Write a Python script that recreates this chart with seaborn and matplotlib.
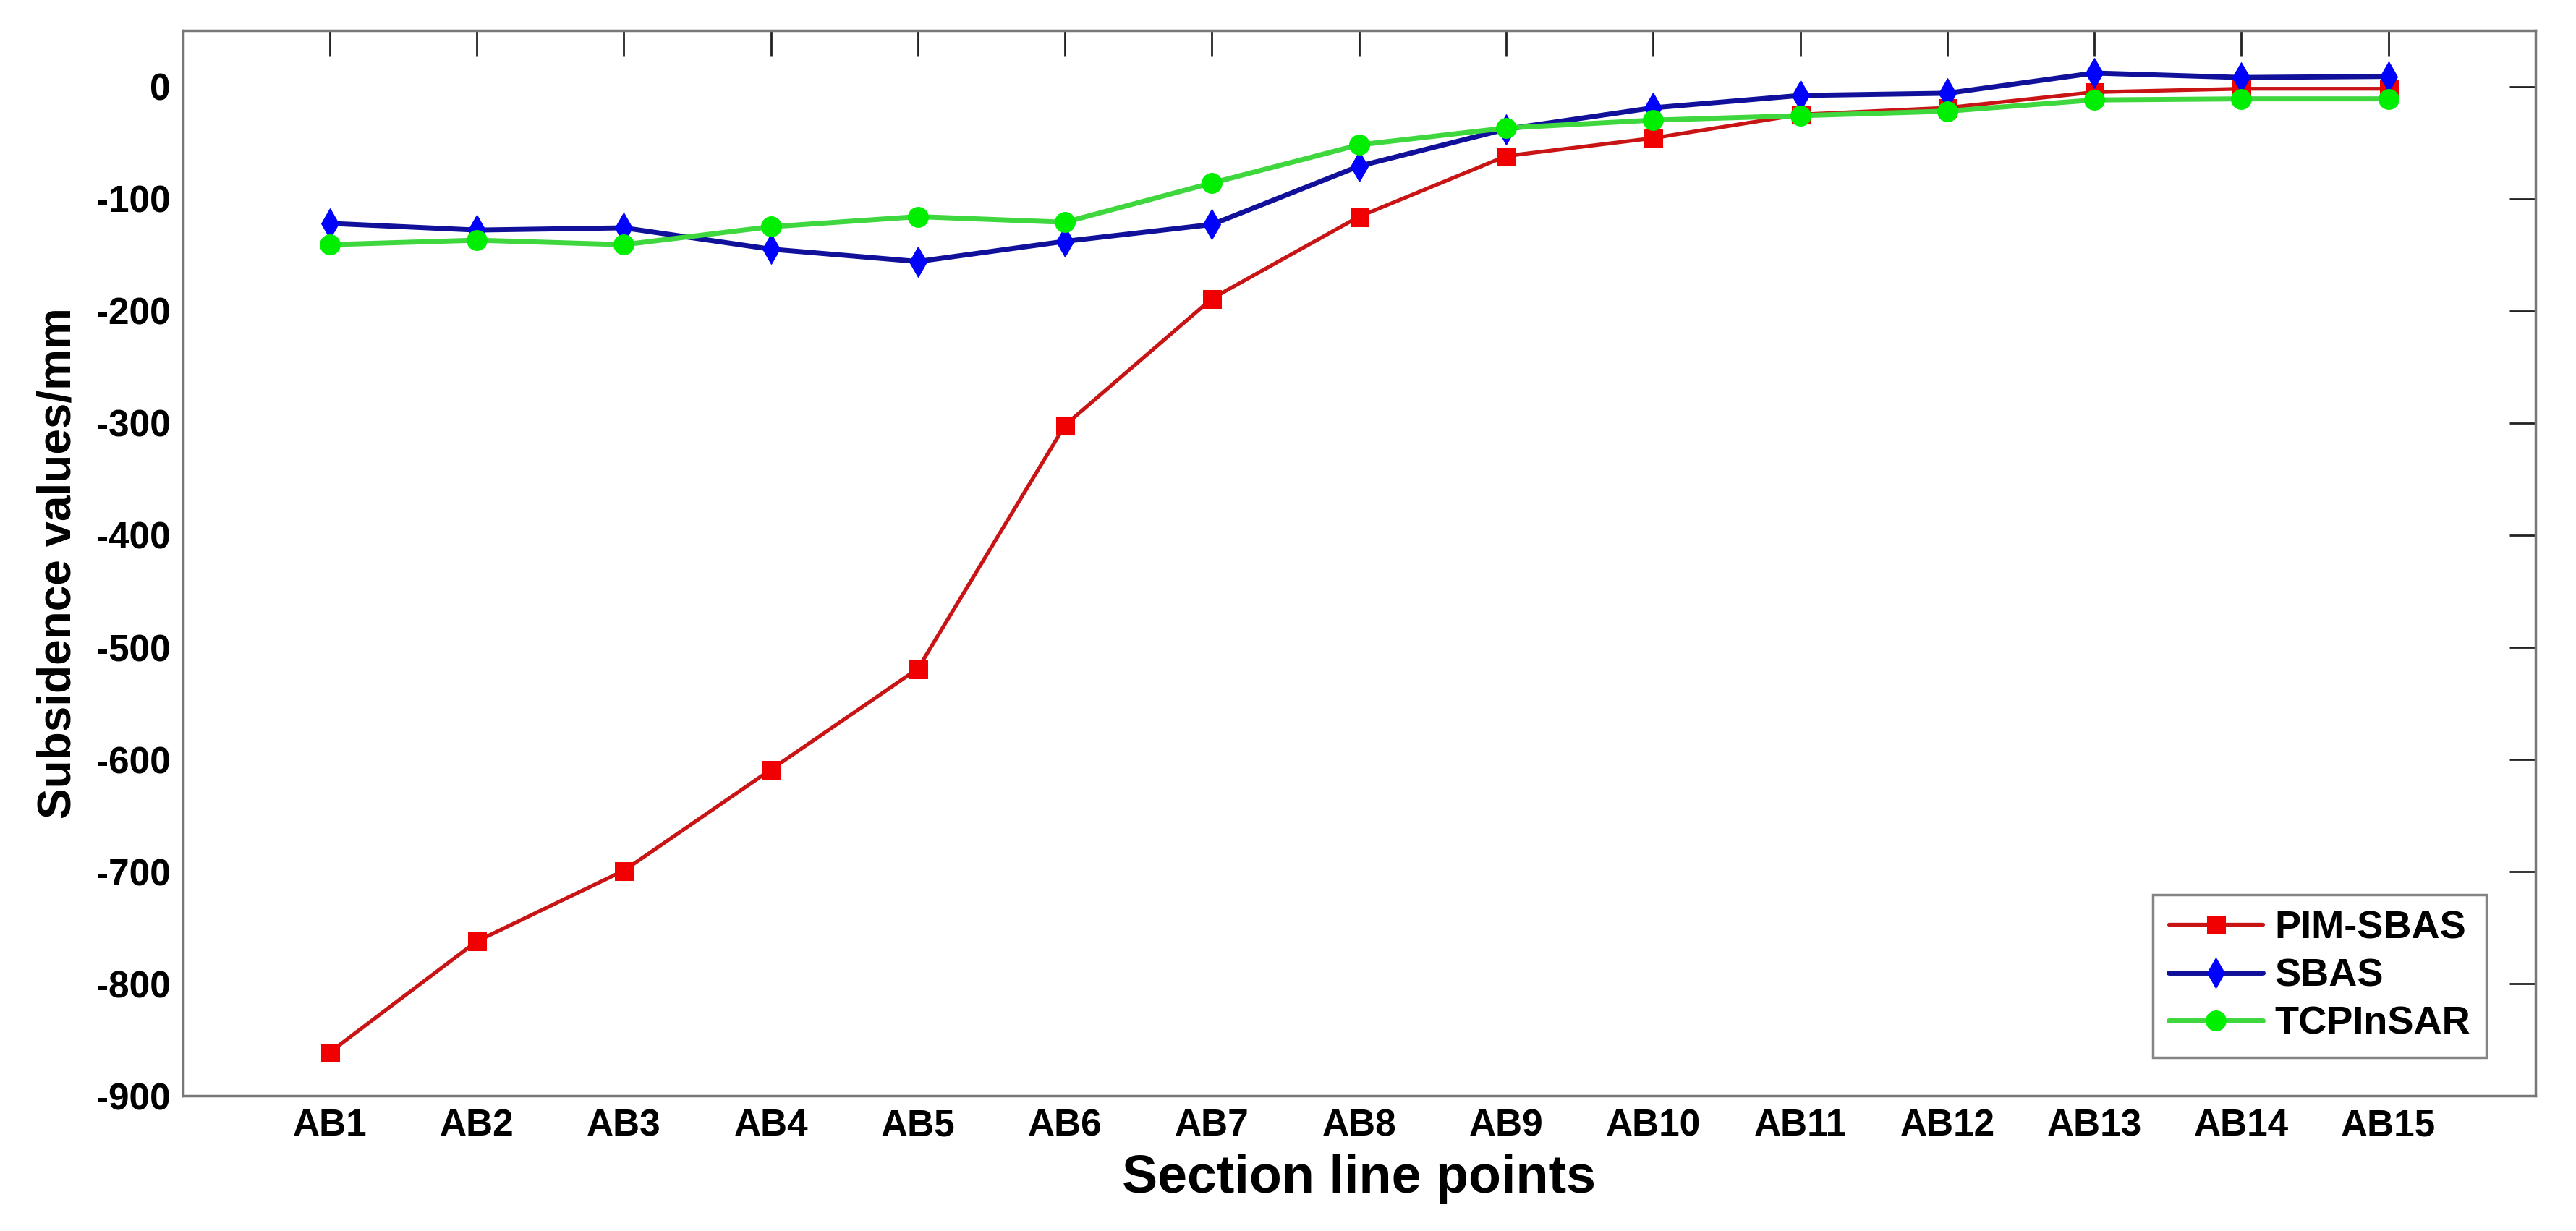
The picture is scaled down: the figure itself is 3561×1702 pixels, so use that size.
import numpy as np
import pandas as pd
import matplotlib
matplotlib.use('Agg')
import matplotlib.pyplot as plt
import seaborn as sns

# Section line points and subsidence values (mm)
points = ['AB1', 'AB2', 'AB3', 'AB4', 'AB5', 'AB6', 'AB7', 'AB8',
          'AB9', 'AB10', 'AB11', 'AB12', 'AB13', 'AB14', 'AB15']
pim_sbas = [-861, -762, -699, -609, -519, -302, -189, -116,
            -62, -46, -25, -19, -5, -2, -2]
sbas = [-122, -128, -126, -145, -156, -138, -123, -71,
        -38, -19, -8, -6, 12, 8, 9]
tcpinsar = [-141, -137, -141, -125, -116, -121, -86, -52,
            -37, -30, -26, -22, -12, -11, -11]
y_ticks = list(range(0, -1000, -100))

pos = np.arange(1, len(points) + 1)
df = pd.DataFrame({'pos': pos, 'PIM-SBAS': pim_sbas, 'SBAS': sbas, 'TCPInSAR': tcpinsar})

sns.set_style('white')
plt.rcParams['font.family'] = ['Liberation Sans', 'DejaVu Sans']
plt.rcParams['font.weight'] = 'bold'
plt.rcParams['text.color'] = 'black'
plt.rcParams['axes.labelcolor'] = 'black'
plt.rcParams['xtick.color'] = 'black'
plt.rcParams['ytick.color'] = 'black'

fig = plt.figure(figsize=(35.62, 17.02), dpi=100)
ax = fig.add_axes([0.0709, 0.1096, 0.9131, 0.8657])

# series styling: (line colour, marker, marker colour, line width, marker size)
styles = {
    'PIM-SBAS': ('#c81414', 's', '#f00000', 3.8, 18),
    'SBAS': ('#10109a', 'd', '#0000ff', 5, 21),
    'TCPInSAR': ('#3ed83e', 'o', '#00ee00', 5, 20),
}
for name, (lc, mk, mc, lw, ms) in styles.items():
    sns.lineplot(data=df, x='pos', y=name, ax=ax, color=lc, lw=lw,
                 marker=mk, markersize=ms, markerfacecolor=mc,
                 markeredgecolor=mc, label=name)

ax.set_xlim(0, 16)
ax.set_ylim(-900, 50)
ax.set_xticks(pos)
ax.set_xticklabels(points)
ax.set_yticks(y_ticks)
ax.set_yticklabels([str(v) for v in y_ticks])
ax.tick_params(direction='in', length=26, width=2, color='#222222',
               labelsize=37, top=True, right=True, pad=12)
for lab in ax.get_xticklabels() + ax.get_yticklabels():
    lab.set_fontweight('bold')
for sp in ax.spines.values():
    sp.set_color('#777777')
    sp.set_linewidth(2.5)

ax.set_xlabel('Section line points', fontsize=53, fontweight='bold', labelpad=10)
ax.set_ylabel('Subsidence values/mm', fontsize=46, fontweight='bold', labelpad=16)

leg = ax.legend(loc='lower right', bbox_to_anchor=(0.979, 0.036), fontsize=39,
                fancybox=False, frameon=True, edgecolor='#666666',
                handlelength=2.4, handletextpad=0.3, borderpad=0.4,
                labelspacing=0.3, borderaxespad=0.0)
leg.get_frame().set_linewidth(2.5)
for t in leg.get_texts():
    t.set_fontweight('bold')

plt.savefig('out.png', dpi=100, facecolor='#ffffff')
